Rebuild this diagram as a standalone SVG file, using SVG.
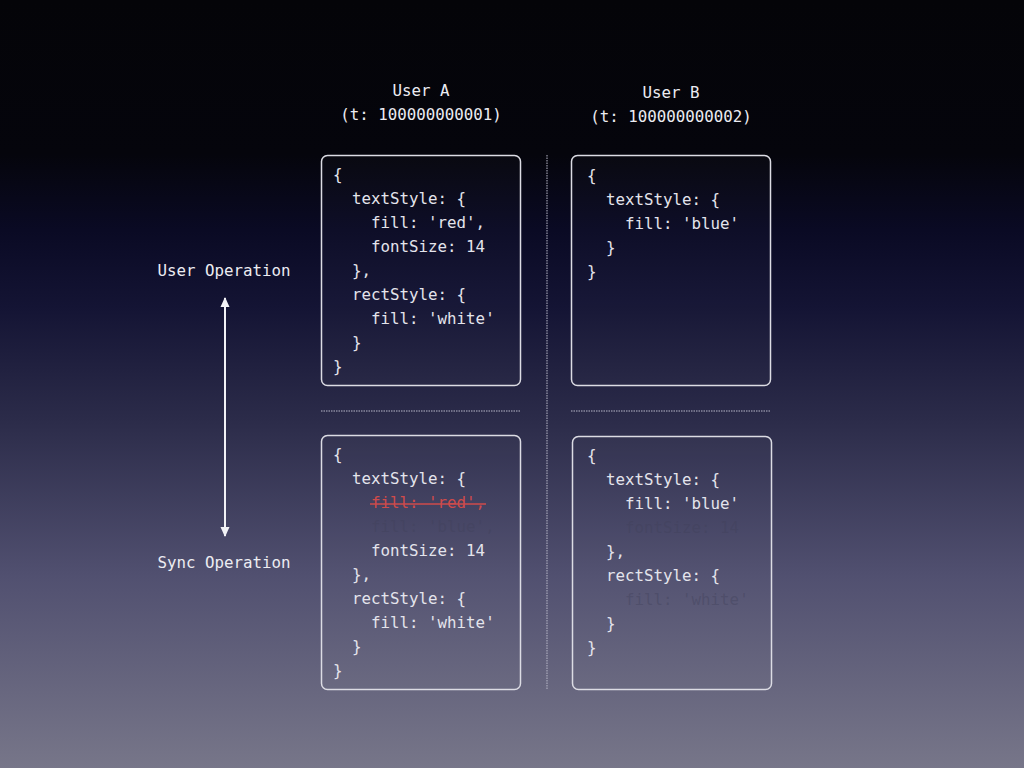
<svg xmlns="http://www.w3.org/2000/svg" width="1024" height="768" viewBox="0 0 1024 768">
<defs>
<linearGradient id="bg" x1="0" y1="0" x2="0" y2="1">
<stop offset="0" stop-color="#040408"/>
<stop offset="0.2" stop-color="#05050c"/>
<stop offset="0.3" stop-color="#0a0a24"/>
<stop offset="0.4" stop-color="#141434"/>
<stop offset="0.55" stop-color="#2c2c4a"/>
<stop offset="0.75" stop-color="#515070"/>
<stop offset="1" stop-color="#777689"/>
</linearGradient>
<marker id="ah" viewBox="0 0 10 10" refX="9" refY="5" markerWidth="10" markerHeight="12" markerUnits="userSpaceOnUse" orient="auto-start-reverse">
<path d="M0,0.5 L10,5 L0,9.5 z" fill="#f2f2f6"/>
</marker>
<style>
.code{font-family:"DejaVu Sans Mono","Liberation Mono",monospace;font-size:15.8px;fill:#e4e4ec}
.lbl{font-family:"DejaVu Sans Mono","Liberation Mono",monospace;font-size:15.8px;fill:#ececf2;text-anchor:middle}
.faint{fill:#40405a;fill-opacity:0.4}
.red{fill:#cf4b4b}
.box{fill:#ffffff;fill-opacity:0.02;stroke:#dcdce4;stroke-width:1.5}
.sep{stroke:#b8b8c8;stroke-width:1;stroke-dasharray:1.5 1}
</style>
</defs>
<rect width="1024" height="768" fill="url(#bg)"/>

<g id="headers">
<text class="lbl" x="421" y="96">User A</text>
<text class="lbl" x="421" y="120">(t: 100000000001)</text>
<text class="lbl" x="671" y="98">User B</text>
<text class="lbl" x="671" y="122">(t: 100000000002)</text>
<text class="lbl" x="224" y="276">User Operation</text>
<text class="lbl" x="224" y="568">Sync Operation</text>
</g>

<g id="connectors">
<line x1="225" y1="298" x2="225" y2="536" stroke="#f2f2f6" stroke-width="2" marker-start="url(#ah)" marker-end="url(#ah)"/>
<line class="sep" x1="547" y1="155" x2="547" y2="690"/>
<line class="sep" x1="321" y1="411" x2="521" y2="411"/>
<line class="sep" x1="571" y1="411" x2="770" y2="411"/>
</g>

<g id="boxA1">
<rect class="box" x="321.5" y="155.5" width="199" height="230" rx="6"/>
<text class="code" x="333" y="180">{</text>
<text class="code" x="352" y="204">textStyle: {</text>
<text class="code" x="371" y="228">fill: 'red',</text>
<text class="code" x="371" y="252">fontSize: 14</text>
<text class="code" x="352" y="276">},</text>
<text class="code" x="352" y="300">rectStyle: {</text>
<text class="code" x="371" y="324">fill: 'white'</text>
<text class="code" x="352" y="348">}</text>
<text class="code" x="333" y="372">}</text>
</g>

<g id="boxB1">
<rect class="box" x="571.5" y="155.5" width="199" height="230" rx="6"/>
<text class="code" x="587" y="181">{</text>
<text class="code" x="606" y="205">textStyle: {</text>
<text class="code" x="625" y="229">fill: 'blue'</text>
<text class="code" x="606" y="253">}</text>
<text class="code" x="587" y="277">}</text>
</g>

<g id="boxA2">
<rect class="box" x="321.5" y="435.5" width="199" height="254" rx="6"/>
<text class="code" x="333" y="460">{</text>
<text class="code" x="352" y="484">textStyle: {</text>
<text class="code red" x="371" y="508">fill: 'red',</text>
<line x1="370" y1="504" x2="486" y2="504" stroke="#cf4b4b" stroke-width="1.5"/>
<text class="code faint" x="371" y="532">fill: 'blue',</text>
<text class="code" x="371" y="556">fontSize: 14</text>
<text class="code" x="352" y="580">},</text>
<text class="code" x="352" y="604">rectStyle: {</text>
<text class="code" x="371" y="628">fill: 'white'</text>
<text class="code" x="352" y="652">}</text>
<text class="code" x="333" y="676">}</text>
</g>

<g id="boxB2">
<rect class="box" x="572.5" y="436.5" width="199" height="253" rx="6"/>
<text class="code" x="587" y="461">{</text>
<text class="code" x="606" y="485">textStyle: {</text>
<text class="code" x="625" y="509">fill: 'blue'</text>
<text class="code faint" x="625" y="533">fontSize: 14</text>
<text class="code" x="606" y="557">},</text>
<text class="code" x="606" y="581">rectStyle: {</text>
<text class="code faint" x="625" y="605">fill: 'white'</text>
<text class="code" x="606" y="629">}</text>
<text class="code" x="587" y="653">}</text>
</g>
</svg>
